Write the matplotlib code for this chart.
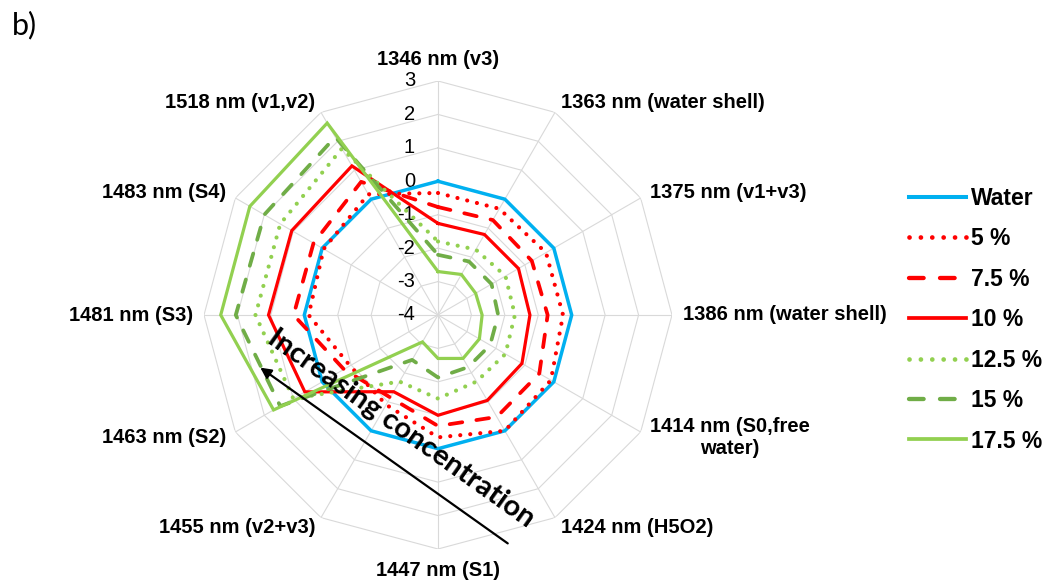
import numpy as np
import matplotlib
matplotlib.use("Agg")
import matplotlib.pyplot as plt
from matplotlib.lines import Line2D
from matplotlib.transforms import offset_copy

plt.rcParams['font.family'] = ['Liberation Sans', 'DejaVu Sans']

categories = ['1346 nm (v3)', '1363 nm (water shell)', '1375 nm (v1+v3)',
              '1386 nm (water shell)', '1414 nm (S0,free\nwater)', '1424 nm (H5O2)',
              '1447 nm (S1)', '1455 nm (v2+v3)', '1463 nm (S2)', '1481 nm (S3)',
              '1483 nm (S4)', '1518 nm (v1,v2)']

series_names = ['Water', '5 %', '7.5 %', '10 %', '12.5 %', '15 %', '17.5 %']

water = [0.0, 0.0, 0.0, 0.0, 0.0, 0.0, 0.0, 0.0, 0.0, 0.0, 0.0, 0.0]
c05 = [-0.35, -0.33, -0.27, -0.26, -0.10, 0.0, -0.34, -0.90, -0.96, -0.13, -0.05, 0.17]
c075 = [-0.77, -0.72, -0.76, -0.72, -0.50, -0.48, -0.68, -1.15, -0.75, 0.32, 0.30, 0.60]
c10 = [-1.26, -1.22, -1.22, -1.25, -1.10, -1.05, -1.00, -1.35, 0.60, 1.07, 1.05, 1.15]
c125 = [-1.80, -1.74, -1.67, -1.70, -1.67, -1.70, -1.50, -1.70, 1.00, 1.46, 1.45, 1.75]
c15 = [-2.20, -2.15, -2.15, -2.20, -2.20, -2.20, -2.13, -2.45, 1.45, 2.05, 2.00, 2.15]
c175 = [-2.70, -2.60, -2.70, -2.68, -2.57, -2.50, -2.70, -3.07, 1.68, 2.50, 2.50, 2.63]

r_ticks = [3, 2, 1, 0, -1, -2, -3, -4]

blue = '#00B0F0'
red = '#FF0000'
lgreen = '#92D050'
dgreen = '#70AD47'

dot = (0, (0.01, 2.4))
dash = (0, (3.4, 3.8))

styles = [
    (water, blue, '-', 2.5),
    (c05, red, dot, 3.0),
    (c075, red, dash, 2.7),
    (c10, red, '-', 2.3),
    (c125, lgreen, dot, 3.0),
    (c15, dgreen, dash, 2.7),
    (c175, lgreen, '-', 2.3),
]

fig = plt.figure(figsize=(10.5, 5.87), dpi=100)
cx, cy, rad = 438 / 1050, 1 - 315 / 587, 234
ax = fig.add_axes([cx - rad / 1050, cy - rad / 587, 2 * rad / 1050, 2 * rad / 587],
                  projection='polar')
ax.set_theta_zero_location('N')
ax.set_theta_direction(-1)
ax.set_ylim(-4, 3)
ax.grid(False)
ax.spines['polar'].set_visible(False)
ax.set_xticks([])
ax.set_yticks([])
ax.patch.set_visible(False)

n = len(categories)
theta = np.arange(n) * 2 * np.pi / n
theta_c = np.append(theta, theta[0])

# polygon grid and spokes
for lvl in r_ticks[:-1]:
    ax.plot(theta_c, [lvl] * (n + 1), color='#d9d9d9', lw=0.8, zorder=1)
for t in theta:
    ax.plot([t, t], [-4, 3], color='#d9d9d9', lw=0.8, zorder=1)

# radial value labels along the top spoke
lab_tr = offset_copy(ax.transData, fig=fig, x=-23, y=0, units='dots')
for lvl in r_ticks:
    ax.text(0, lvl, str(lvl), transform=lab_tr, ha='right',
            va='center', fontsize=14.5, color='black', zorder=2)

# series
handles = []
for (vals, col, ls, lw), name in zip(styles, series_names):
    v = np.append(vals, vals[0])
    ax.plot(theta_c, v, color=col, linestyle=ls, lw=lw,
            dash_capstyle='round', solid_joinstyle='miter', zorder=3)
    handles.append(Line2D([], [], color=col, linestyle=ls, lw=lw + 0.4,
                          dash_capstyle='round'))

# category labels
for i, (t, name) in enumerate(zip(theta, categories)):
    if i in (0, 6):
        ha, r = 'center', 3.63
    elif i < 6:
        ha, r = 'left', 3.33
    else:
        ha, r = 'right', 3.33
    ax.text(t, r, name, ha=ha, va='center', fontsize=14.5, fontweight='bold',
            multialignment='center', zorder=4)

fig.legend(handles, series_names, loc='upper left',
           bbox_to_anchor=(909 / 1050, 1 - 187 / 587), bbox_transform=fig.transFigure,
           frameon=False, borderpad=0, borderaxespad=0, handlelength=2.5,
           handletextpad=0.2, labelspacing=0.76,
           prop={'weight': 'bold', 'size': 16.5})

# concentration arrow
ax.annotate('', xy=(258 / 1050, 1 - 366 / 587), xytext=(510 / 1050, 1 - 545 / 587),
            xycoords='figure fraction', textcoords='figure fraction',
            arrowprops=dict(arrowstyle='-|>', color='black', lw=1.6, mutation_scale=16))
fig.text(401 / 1050, 1 - 429 / 587, 'Increasing concentration', rotation=-35.5,
         rotation_mode='anchor', ha='center', va='center', fontsize=21,
         fontweight='bold', family=['Lato', 'DejaVu Sans'], color='black')

fig.text(12 / 1050, 1 - 25 / 587, 'b)', fontsize=22, ha='left', va='center',
         family=['Lato', 'DejaVu Sans'])

fig.savefig('out.png', dpi=100, facecolor='white')
